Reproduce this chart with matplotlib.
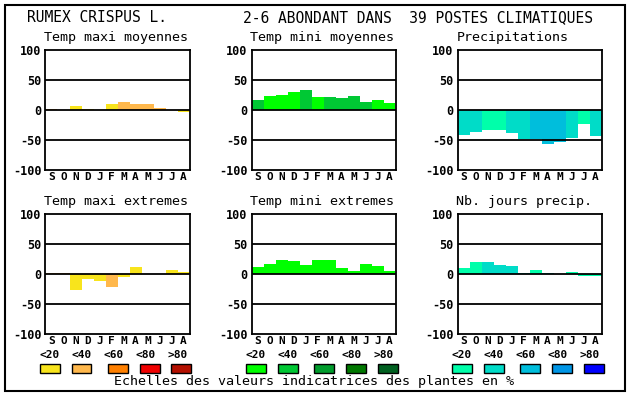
import matplotlib
matplotlib.use("Agg")
from matplotlib import pyplot as plt
from matplotlib.patches import Rectangle

# mois (septembre -> aout)
mois = ["S", "O", "N", "D", "J", "F", "M", "A", "M", "J", "J", "A"]
classes = ["<20", "<40", "<60", "<80", ">80"]

# palettes des classes
couleurs_chaud = ["#F8E41C", "#FFB84C", "#FF8000", "#F00000", "#B41000"]
couleurs_vert = ["#00FF00", "#00C834", "#009C2C", "#007800", "#006020"]
couleurs_eau = ["#00FFAA", "#00DCC8", "#00BEDC", "#0096E6", "#0000FF"]

tmax_moy = [2, 0, 7, 2, 0, 10, 13, 10, 10, 3, 0, -3]
tmax_moy_cl = [1, 0, 0, 0, 0, 0, 1, 1, 1, 1, 0, 0]
tmin_moy = [17, 23, 25, 30, 33, 22, 22, 20, 23, 13, 17, 12]
tmin_moy_cl = [1, 0, 0, 0, 1, 0, 1, 1, 1, 1, 0, 0]
precip = [-41, -36, -33, -33, -38, -48, -49, -56, -53, -46, -23, -44]
precip_cl = [1, 1, 0, 0, 1, 1, 2, 2, 2, 1, 0, 1]
tmax_ext = [2, 2, -27, -8, -12, -22, -5, 12, 0, 0, 7, 3]
tmax_ext_cl = [1, 1, 0, 0, 0, 1, 0, 0, 0, 0, 0, 0]
tmin_ext = [12, 17, 23, 22, 15, 23, 23, 10, 5, 17, 13, 5]
tmin_ext_cl = [0, 0, 0, 0, 0, 0, 0, 0, 0, 0, 0, 0]
jours = [10, 20, 20, 15, 13, 2, 7, 2, 0, 3, -3, -3]
jours_cl = [0, 0, 1, 1, 1, 1, 0, 1, 0, 0, 0, 0]

W, H = 630, 394
fig = plt.figure(figsize=(W / 100, H / 100), dpi=100)
fig.patch.set_facecolor("white")

def px(x, y):
    # pixel (haut-gauche) -> coordonnees figure
    return x / W, 1 - y / H

fig.patches.append(Rectangle((5 / W, 1 - 391 / H), 620 / W, 386 / H, transform=fig.transFigure,
                             fill=False, edgecolor="black", linewidth=1.5))

mono = "DejaVu Sans Mono"
fig.text(*px(27, 18), "RUMEX CRISPUS L.", family=mono, fontsize=10.5, va="center", ha="left")
fig.text(*px(243, 18), "2-6 ABONDANT DANS  39 POSTES CLIMATIQUES", family=mono, fontsize=10.5,
         va="center", ha="left")

panneaux = [
    ("Temp maxi moyennes", tmax_moy, tmax_moy_cl, couleurs_chaud, 0, 0),
    ("Temp mini moyennes", tmin_moy, tmin_moy_cl, couleurs_vert, 1, 0),
    ("Precipitations", precip, precip_cl, couleurs_eau, 2, 0),
    ("Temp maxi extremes", tmax_ext, tmax_ext_cl, couleurs_chaud, 0, 1),
    ("Temp mini extremes", tmin_ext, tmin_ext_cl, couleurs_vert, 1, 1),
    ("Nb. jours precip.", jours, jours_cl, couleurs_eau, 2, 1),
]

for titre, vals, cl, pal, col, lig in panneaux:
    x0 = 45.5 + 206 * col
    y0 = 50 + 164 * lig
    ax = fig.add_axes([x0 / W, 1 - (y0 + 120) / H, 144 / W, 120 / H])
    ax.bar(range(12), vals, width=1.0, color=[pal[c] for c in cl], linewidth=0, zorder=1)
    for yv in (50, 0, -50):
        ax.axhline(yv, color="black", linewidth=1.3, zorder=2)
    ax.set_xlim(-0.5, 11.5)
    ax.set_ylim(-100, 100)
    ax.set_yticks([100, 50, 0, -50, -100])
    ax.set_yticklabels(["100", "50", "0", "-50", "-100"], family=mono, fontweight="bold", fontsize=8.5)
    ax.set_xticks(range(12))
    ax.set_xticklabels(mois, family=mono, fontweight="bold", fontsize=8)
    ax.tick_params(axis="y", length=0, pad=3)
    ax.tick_params(axis="x", length=0, pad=1.5)
    for s in ax.spines.values():
        s.set_linewidth(1.3)
    fig.text(*px(x0 - 1, y0 - 12), titre, family=mono, fontsize=9.6, va="center", ha="left")

# legendes des classes
for col, pal in enumerate([couleurs_chaud, couleurs_vert, couleurs_eau]):
    for i, (lab, c) in enumerate(zip(classes, pal)):
        bx = 39.5 + 206 * col + [0, 32, 68, 100, 132][i]
        fig.patches.append(Rectangle(px(bx, 373), 20 / W, 9 / H, transform=fig.transFigure,
                                     facecolor=c, edgecolor="black", linewidth=1))
        fig.text(*px(49.5 + 206 * col + 32 * i, 355.5), lab, family=mono, fontweight="bold",
                 fontsize=8, ha="center", va="center")

fig.text(*px(314, 382), "Echelles des valeurs indicatrices des plantes en %", family=mono,
         fontsize=9.6, ha="center", va="center")

plt.savefig("out.png", dpi=100)
